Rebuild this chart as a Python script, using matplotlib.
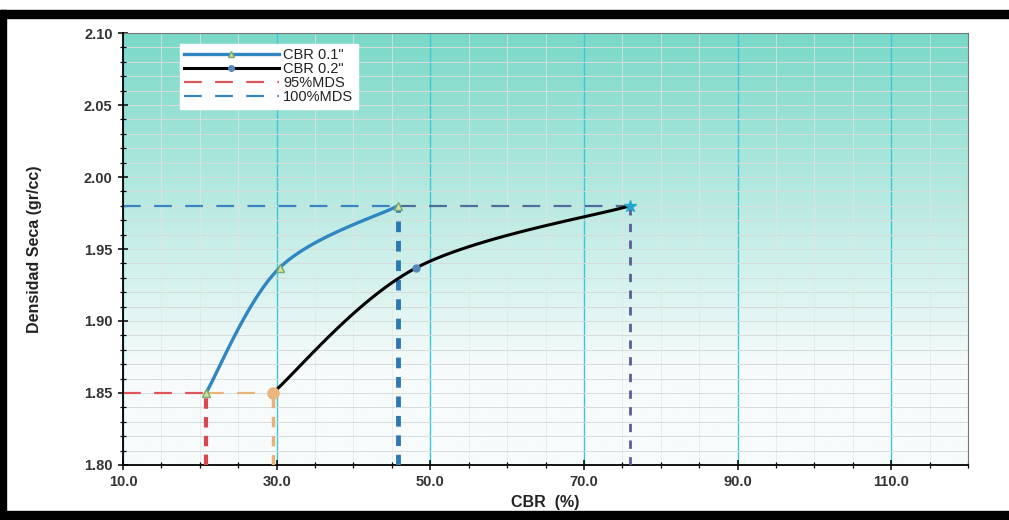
import numpy as np
import matplotlib
matplotlib.use("Agg")
import matplotlib.pyplot as plt
from matplotlib.patches import Rectangle
from matplotlib.ticker import MultipleLocator, FormatStrFormatter

# ── Data ──────────────────────────────────────────────────────
cbr01_x = [20.8, 30.4, 45.8]       # CBR 0.1"
cbr01_y = [1.850, 1.937, 1.980]
cbr02_x = [29.5, 48.2, 76.0]       # CBR 0.2"
cbr02_y = [1.850, 1.937, 1.980]
mds95 = 1.85                        # 95% MDS
mds100 = 1.98                       # 100% MDS
cbr95_01, cbr95_02 = 20.8, 29.5
cbr100_01, cbr100_02 = 45.8, 76.0

XMIN, XMAX = 10.0, 120.0
YMIN, YMAX = 1.80, 2.10


def smooth(xs, ys, n=60):
    """Excel-like smoothed line (cubic bezier, tension 1/6) in normalised space."""
    px = (np.asarray(xs) - XMIN) / (XMAX - XMIN)
    py = (np.asarray(ys) - YMIN) / (YMAX - YMIN)
    P = np.column_stack([px, py])
    P = np.vstack([P[0], P, P[-1]])
    out = []
    t = np.linspace(0, 1, n)[:, None]
    for i in range(1, len(P) - 2):
        p0, p3 = P[i], P[i + 1]
        c1 = p0 + (P[i + 1] - P[i - 1]) / 6
        c2 = p3 - (P[i + 2] - P[i]) / 6
        seg = (1 - t) ** 3 * p0 + 3 * (1 - t) ** 2 * t * c1 + 3 * (1 - t) * t ** 2 * c2 + t ** 3 * p3
        out.append(seg)
    out = np.vstack(out)
    return out[:, 0] * (XMAX - XMIN) + XMIN, out[:, 1] * (YMAX - YMIN) + YMIN


plt.rcParams["font.family"] = ["Liberation Sans", "DejaVu Sans"]

fig = plt.figure(figsize=(10.09, 5.20), dpi=100, facecolor="white")
ax = fig.add_axes([0.1219, 0.1058, 0.8375, 0.8307])

# scanned-page black frame
fig.patches.append(Rectangle((0, 0.965), 1, 0.016, transform=fig.transFigure,
                             color="black", zorder=-1))
fig.patches.append(Rectangle((0, 0), 0.006, 0.98, transform=fig.transFigure,
                             color="black", zorder=-1))
fig.patches.append(Rectangle((0, 0), 1, 0.018, transform=fig.transFigure,
                             color="black", zorder=-1))

# teal → white background gradient
h = 200
tt = np.linspace(0, 1, h)[:, None]
w = np.clip((tt - 0.22) / 0.78, 0, 1) ** 1.0
teal = np.array([122, 217, 200]) / 255
white = np.array([247, 251, 251]) / 255
grad = white + (teal - white) * w[..., None]
grad = np.repeat(grad, 2, axis=1)
ax.imshow(grad, extent=[XMIN, XMAX, YMIN, YMAX], origin="lower",
          aspect="auto", zorder=0, interpolation="bilinear")

ax.set_xlim(XMIN, XMAX)
ax.set_ylim(YMIN, YMAX)

# grid
ax.xaxis.set_minor_locator(MultipleLocator(5))
ax.yaxis.set_major_locator(MultipleLocator(0.05))
ax.yaxis.set_minor_locator(MultipleLocator(0.01))
ax.set_xticks(np.arange(10, 111, 20))
ax.xaxis.set_major_formatter(FormatStrFormatter("%.1f"))
ax.yaxis.set_major_formatter(FormatStrFormatter("%.2f"))
ax.grid(which="minor", axis="y", color="#d6dcdc", lw=0.7, zorder=1)
ax.grid(which="minor", axis="x", color="#e2e6e6", lw=0.5, zorder=1)
ax.grid(which="major", axis="y", color="#d6dcdc", lw=0.7, zorder=1)
ax.grid(which="major", axis="x", color="#3cc6d6", lw=1.0, zorder=1)

# reference dashed lines
ax.plot([XMIN, cbr95_01], [mds95, mds95], color="#e0555a", lw=1.6,
        dashes=(8, 6), zorder=3, label="95%MDS")
ax.plot([cbr95_01, cbr95_01], [YMIN, mds95], color="#d9474f", lw=3,
        dashes=(2.5, 2), zorder=3)
ax.plot([cbr95_01, cbr95_02], [mds95, mds95], color="#e9b477", lw=1.6,
        dashes=(8, 6), zorder=3)
ax.plot([cbr95_02, cbr95_02], [YMIN, mds95], color="#e6b27a", lw=2.5,
        dashes=(3, 2.5), zorder=3)
ax.plot([XMIN, cbr100_01], [mds100, mds100], color="#3b84c2", lw=1.6,
        dashes=(8, 6), zorder=3, label="100%MDS")
ax.plot([cbr100_01, cbr100_02], [mds100, mds100], color="#4f6c9a", lw=1.6,
        dashes=(8, 6), zorder=3)
ax.plot([cbr100_01, cbr100_01], [YMIN, mds100], color="#2b78b5", lw=3.5,
        dashes=(2.2, 1.8), zorder=3)
ax.plot([cbr100_02, cbr100_02], [YMIN, mds100], color="#5a5e98", lw=2,
        dashes=(3, 3), zorder=3)

# curves
sx, sy = smooth(cbr01_x, cbr01_y)
ax.plot(sx, sy, color="#2f86c0", lw=2.4, zorder=4)
ax.plot(cbr01_x, cbr01_y, ls="none", marker="^", ms=6, mfc="#cfe0a0",
        mec="#7aa870", zorder=5)
sx, sy = smooth(cbr02_x, cbr02_y)
ax.plot(sx, sy, color="black", lw=2.2, zorder=4)
ax.plot(cbr02_x[1], cbr02_y[1], marker="o", ms=5, mfc="#5588bb",
        mec="#5588bb", zorder=5)
ax.plot(cbr02_x[0], cbr02_y[0], marker="o", ms=8, mfc="#eab67c",
        mec="#eab67c", zorder=5)
ax.plot(cbr02_x[-1], cbr02_y[-1], marker="*", ms=9, color="#22a6c9",
        zorder=5)

# legend proxies
ax.plot([], [], color="#2f86c0", lw=2.4, marker="^", ms=5, mfc="#cfe0a0",
        mec="#7aa870", label='CBR 0.1"')
ax.plot([], [], color="black", lw=2.2, marker="o", ms=4, mfc="#5588bb",
        mec="#5588bb", label='CBR 0.2"')
hs, ls = ax.get_legend_handles_labels()
order = [2, 3, 0, 1]
leg = ax.legend([hs[i] for i in order], [ls[i] for i in order],
                loc="upper left", bbox_to_anchor=(0.067, 0.975),
                handlelength=6.5, handletextpad=0.3, labelspacing=0.0,
                borderpad=0.3, borderaxespad=0, fontsize=10.5, frameon=True,
                fancybox=False, edgecolor="white", framealpha=1)
leg._legend_box.align = "left"
leg.set_zorder(6)
for t in leg.get_texts():
    t.set_color("#222222")

# spines & ticks
for s in ["top", "right"]:
    ax.spines[s].set_color("#777777")
    ax.spines[s].set_linewidth(0.8)
for s in ["left", "bottom"]:
    ax.spines[s].set_color("black")
    ax.spines[s].set_linewidth(1.3)
ax.spines["left"].set_zorder(7)
ax.tick_params(which="both", direction="inout", color="black")
ax.tick_params(which="major", length=7, width=1.1, labelsize=10.5,
               labelcolor="#333333", pad=4)
ax.tick_params(which="minor", length=5, width=0.9)
for lab in ax.get_xticklabels() + ax.get_yticklabels():
    lab.set_fontweight("bold")

ax.set_xlabel("CBR  (%)", fontsize=11.5, fontweight="bold", color="#222222",
              labelpad=4)
ax.set_ylabel("Densidad Seca (gr/cc)", fontsize=11.5, fontweight="bold",
              color="#222222", labelpad=30,
              family=["Liberation Sans Narrow", "Liberation Sans", "DejaVu Sans"])

plt.savefig("out.png", dpi=100)
